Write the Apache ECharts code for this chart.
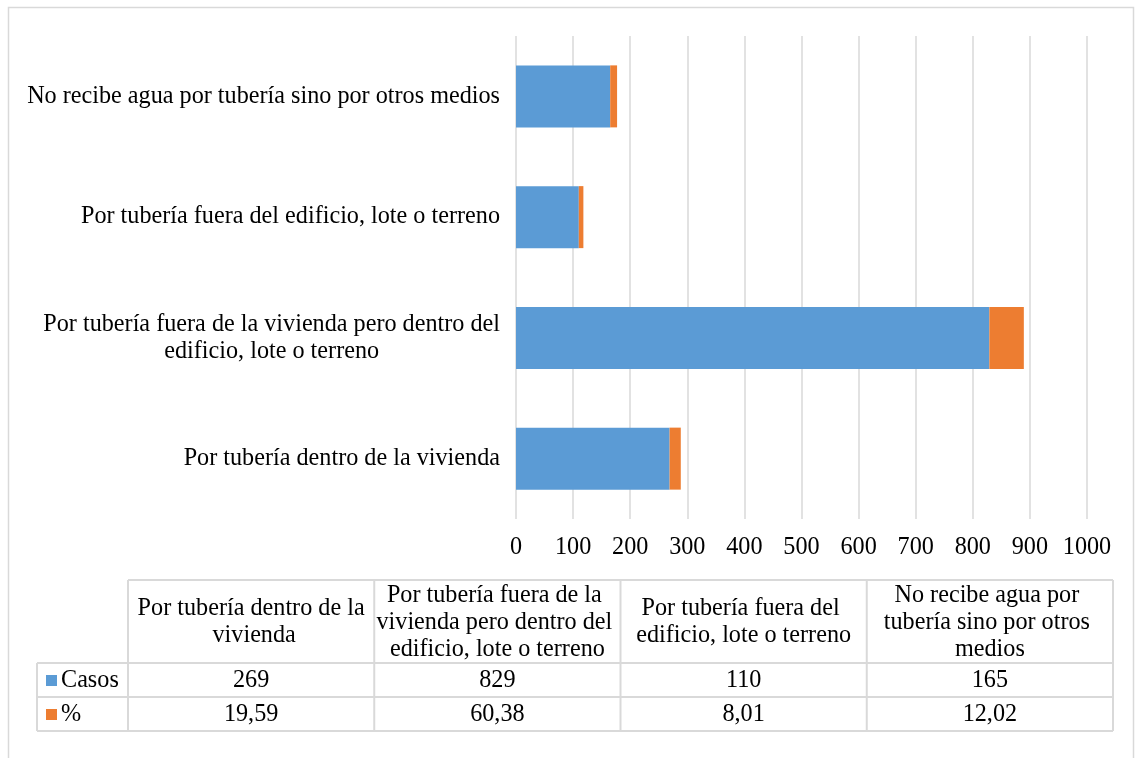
<!DOCTYPE html>
<html lang="es" style="height: 100%">

<head>
  <meta charset="utf-8" />
</head>

<body style="height: 100%; margin: 0; background: #fff">
  <div id="container" style="width: 1135px; height: 758px"></div>

  <script type="text/javascript" src="https://fastly.jsdelivr.net/npm/echarts@6.0.0/dist/echarts.min.js"></script>

  <script type="text/javascript">
    // data
    var categories = [
      "Por tubería dentro de la vivienda",
      "Por tubería fuera de la vivienda pero dentro del edificio, lote o terreno",
      "Por tubería fuera del edificio, lote o terreno",
      "No recibe agua por tubería sino por otros medios",
    ];
    // axis labels (Excel wraps the long one)
    var axisLabels = [
      "Por tubería dentro de la vivienda",
      "Por tubería fuera de la vivienda pero dentro del\nedificio, lote o terreno",
      "Por tubería fuera del edificio, lote o terreno",
      "No recibe agua por tubería sino por otros medios",
    ];
    var casos = [269, 829, 110, 165];
    var pct = [19.59, 60.38, 8.01, 12.02];
    var seriesNames = ["Casos", "%"];
    var xTicks = { min: 0, max: 1000, interval: 100 };

    var BLUE = "#5b9bd5";
    var ORANGE = "#ed7d31";
    var GRID = "#d9d9d9";
    var FONT = "'Liberation Serif', 'Times New Roman', serif";
    var FS = 24.2;

    var dom = document.getElementById("container");
    var myChart = echarts.init(dom, null, { renderer: "canvas" });

    // data table under the chart
    var tLeft = 128, tRight = 1113, keyLeft = 37;
    var rowY = [580, 663, 697, 731];
    var colW = (tRight - tLeft) / categories.length;
    var graphics = [];

    graphics.push({
      type: "rect",
      shape: { x: 8.5, y: 7.5, width: 1125, height: 770 },
      style: { fill: null, stroke: GRID, lineWidth: 1.5 },
      silent: true,
    });

    function hline(x1, x2, y) {
      graphics.push({
        type: "line",
        shape: { x1: x1, y1: y, x2: x2, y2: y },
        style: { stroke: GRID, lineWidth: 2 },
      });
    }
    function vline(x, y1, y2) {
      graphics.push({
        type: "line",
        shape: { x1: x, y1: y1, x2: x, y2: y2 },
        style: { stroke: GRID, lineWidth: 2 },
      });
    }

    hline(tLeft, tRight, rowY[0]);
    hline(keyLeft, tRight, rowY[1]);
    hline(keyLeft, tRight, rowY[2]);
    hline(keyLeft, tRight, rowY[3]);
    vline(keyLeft, rowY[1], rowY[3]);
    for (var i = 0; i <= categories.length; i++) {
      vline(tLeft + i * colW, rowY[0], rowY[3]);
    }

    function cellText(txt, cx, cy) {
      graphics.push({
        type: "text",
        style: {
          x: cx,
          y: cy,
          text: txt,
          width: 250,
          overflow: "break",
          align: "center",
          verticalAlign: "middle",
          lineHeight: 27,
          fontFamily: FONT,
          fontSize: FS,
          fill: "#000",
        },
      });
    }

    var rows = [
      casos.map(function (v) { return String(v); }),
      pct.map(function (v) { return v.toFixed(2).replace(".", ","); }),
    ];
    var keyColors = [BLUE, ORANGE];

    categories.forEach(function (c, j) {
      var cx = tLeft + colW * (j + 0.5);
      cellText(c, cx, (rowY[0] + rowY[1]) / 2 + 1);
      rows.forEach(function (r, k) {
        cellText(r[j], cx, (rowY[k + 1] + rowY[k + 2]) / 2 + 1);
      });
    });

    seriesNames.forEach(function (name, k) {
      var cy = (rowY[k + 1] + rowY[k + 2]) / 2;
      graphics.push({
        type: "rect",
        shape: { x: 46, y: cy - 5, width: 11, height: 11 },
        style: { fill: keyColors[k] },
      });
      graphics.push({
        type: "text",
        style: {
          x: 61,
          y: cy + 1,
          text: name,
          verticalAlign: "middle",
          fontFamily: FONT,
          fontSize: FS,
          fill: "#000",
        },
      });
    });

    var option = {
      animation: false,
      textStyle: { fontFamily: FONT },
      grid: { left: 516, right: 48, top: 36, bottom: 239 },
      xAxis: {
        type: "value",
        min: xTicks.min,
        max: xTicks.max,
        interval: xTicks.interval,
        axisLine: { show: false },
        axisTick: { show: false },
        splitLine: { lineStyle: { color: GRID, width: 1.5 } },
        axisLabel: {
          color: "#000",
          fontSize: FS,
          fontFamily: FONT,
          margin: 17,
          formatter: function (v) { return String(v); },
        },
      },
      yAxis: {
        type: "category",
        data: categories,
        axisLine: { show: false },
        axisTick: { show: false },
        axisLabel: {
          color: "#000",
          fontSize: FS,
          fontFamily: FONT,
          margin: 16,
          lineHeight: 27,
          formatter: function (v, idx) {
            var lines = axisLabels[idx].split("\n");
            if (lines.length === 1) return lines[0];
            return lines.map(function (l) { return "{c|" + l + "}"; }).join("\n");
          },
          rich: {
            c: {
              align: "center",
              fontSize: FS,
              fontFamily: FONT,
              color: "#000",
              lineHeight: 27,
            },
          },
        },
      },
      series: [
        {
          name: seriesNames[0],
          type: "bar",
          stack: "total",
          barWidth: 62,
          itemStyle: { color: BLUE },
          data: casos,
        },
        {
          name: seriesNames[1],
          type: "bar",
          stack: "total",
          barWidth: 62,
          itemStyle: { color: ORANGE },
          data: pct,
        },
      ],
      graphic: graphics,
    };

    myChart.setOption(option);
    window.addEventListener("resize", myChart.resize);
  </script>
</body>

</html>
